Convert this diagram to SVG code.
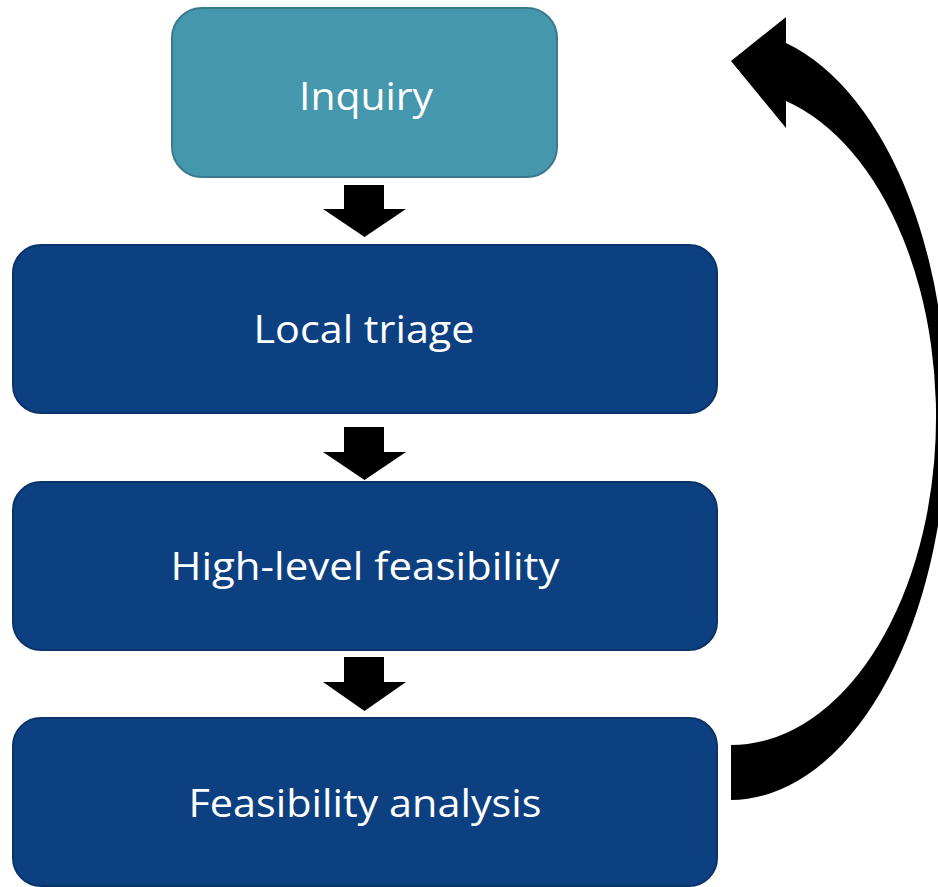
<svg xmlns="http://www.w3.org/2000/svg" width="938" height="887" viewBox="0 0 938 887">
  <style>
    .step rect { fill: #0c4080; stroke: #0a3469; stroke-width: 2; }
    .start rect { fill: #4597ae; stroke: #3a7a8c; stroke-width: 2; }
    .label { font-family: "Open Sans", "Liberation Sans", sans-serif; font-size: 39px; fill: #ffffff; text-anchor: middle; }
    .flow { fill: #000000; }
  </style>

  <g id="inquiry" class="start">
    <rect x="172" y="8" width="385" height="169" rx="30" ry="30"/>
    <text class="label" x="366" y="110" textLength="134" lengthAdjust="spacingAndGlyphs">Inquiry</text>
  </g>

  <g id="local-triage" class="step">
    <rect x="13" y="245" width="704" height="168" rx="28" ry="28"/>
    <text class="label" x="364" y="343" textLength="221" lengthAdjust="spacingAndGlyphs">Local triage</text>
  </g>

  <g id="high-level-feasibility" class="step">
    <rect x="13" y="482" width="704" height="168" rx="28" ry="28"/>
    <text class="label" x="365" y="580" textLength="389" lengthAdjust="spacingAndGlyphs">High-level feasibility</text>
  </g>

  <g id="feasibility-analysis" class="step">
    <rect x="13" y="718" width="704" height="168" rx="28" ry="28"/>
    <text class="label" x="365" y="817" textLength="353" lengthAdjust="spacingAndGlyphs">Feasibility analysis</text>
  </g>

  <g id="connectors" class="flow">
    <!-- block arrows between consecutive steps -->
    <path d="M344,185 H384 V209 H406 L364.5,237 L323,209 H344 Z"/>
    <path d="M344,427 H384 V452 H406 L364.5,480 L323,452 H344 Z"/>
    <path d="M344,657 H384 V682 H406 L364.5,711 L323,682 H344 Z"/>
    <!-- curved return arrow from the last step back to the start -->
    <path d="M731,800 A217,385 0 0 0 786,43 L786,17 L731,61 L786,128 L786,101 A205,328 0 0 1 731,745 Z"/>
  </g>
</svg>
